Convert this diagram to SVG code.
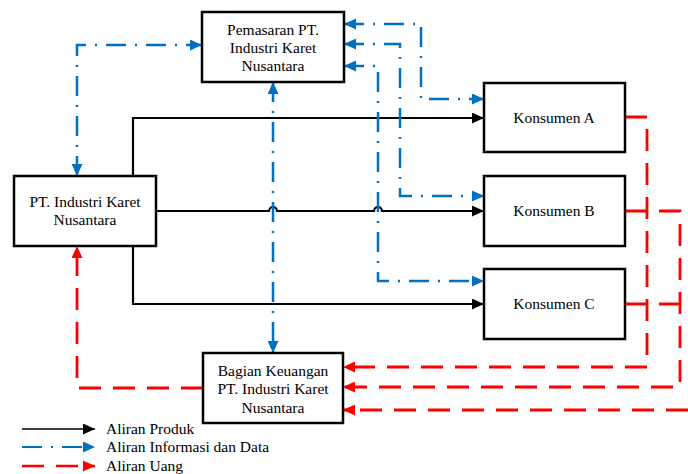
<svg xmlns="http://www.w3.org/2000/svg" width="688" height="474" viewBox="0 0 688 474">
<defs>
<marker id="ak" markerUnits="userSpaceOnUse" markerWidth="12" markerHeight="11" refX="12" refY="5.5" orient="auto-start-reverse"><path d="M0,0 L12,5.5 L0,11 Z" fill="#000"/></marker>
<marker id="ab" markerUnits="userSpaceOnUse" markerWidth="12" markerHeight="11" refX="12" refY="5.5" orient="auto-start-reverse"><path d="M0,0 L12,5.5 L0,11 Z" fill="#0070C0"/></marker>
<marker id="ar" markerUnits="userSpaceOnUse" markerWidth="12" markerHeight="11" refX="12" refY="5.5" orient="auto-start-reverse"><path d="M0,0 L12,5.5 L0,11 Z" fill="#FF0000"/></marker>
</defs>
<style>
.box{fill:#fff;stroke:#000;stroke-width:2.5}
.t{font-family:"Liberation Serif","Times New Roman",serif;font-size:15.5px;fill:#000;text-anchor:middle}
.tl{font-family:"Liberation Serif","Times New Roman",serif;font-size:15.5px;fill:#000}
.k{fill:none;stroke:#000;stroke-width:2.2}
.b{fill:none;stroke:#0070C0;stroke-width:2.5;stroke-dasharray:20 9 2 9}
.r{fill:none;stroke:#FF0000;stroke-width:2.8;stroke-dasharray:22 12}
</style>
<g id="connectors">
<path class="k" d="M133,176 V118 H484" marker-end="url(#ak)"/>
<path class="k" d="M156,211 H269 A4,4 0 0 1 277,211 H374 A4,4 0 0 1 382,211 H484" marker-end="url(#ak)"/>
<path class="k" d="M133,246 V304 H484" marker-end="url(#ak)"/>
<path class="b" d="M77,176 V45 H202" marker-start="url(#ab)" marker-end="url(#ab)"/>
<path class="b" d="M273,82 V353" marker-start="url(#ab)" marker-end="url(#ab)"/>
<path class="b" d="M344,24 H421 V99 H484" marker-start="url(#ab)" marker-end="url(#ab)"/>
<path class="b" d="M344,44 H400 V196 H484" marker-start="url(#ab)" marker-end="url(#ab)"/>
<path class="b" d="M344,66 H378 V281 H484" marker-start="url(#ab)" marker-end="url(#ab)"/>
<path class="r" d="M625,117 H647 V367 H343" marker-end="url(#ar)"/>
<path class="r" d="M625,211 H680 V387 H343" marker-end="url(#ar)"/>
<path class="r" d="M625,304 H680"/>
<path class="r" d="M688,410 H343" marker-end="url(#ar)"/>
<path class="r" d="M203,388 H77 V246" marker-end="url(#ar)"/>
</g>
<g id="pemasaran"><rect class="box" x="202" y="12" width="142" height="70"/>
<text class="t" x="273" y="35">Pemasaran PT.</text><text class="t" x="273" y="53">Industri Karet</text><text class="t" x="273" y="71">Nusantara</text></g>
<g id="pt"><rect class="box" x="14" y="176" width="142" height="70"/>
<text class="t" x="85" y="207">PT. Industri Karet</text><text class="t" x="85" y="225">Nusantara</text></g>
<g id="konsumenA"><rect class="box" x="484" y="83" width="141" height="69"/><text class="t" x="554" y="123">Konsumen A</text></g>
<g id="konsumenB"><rect class="box" x="484" y="176" width="141" height="70"/><text class="t" x="554" y="216">Konsumen B</text></g>
<g id="konsumenC"><rect class="box" x="484" y="269" width="141" height="70"/><text class="t" x="554" y="309">Konsumen C</text></g>
<g id="keuangan"><rect class="box" x="203" y="353" width="140" height="70"/>
<text class="t" x="273" y="376">Bagian Keuangan</text><text class="t" x="273" y="394">PT. Industri Karet</text><text class="t" x="273" y="413">Nusantara</text></g>
<g id="legend">
<path d="M22,429 H95" stroke="#000" stroke-width="1.5" fill="none" marker-end="url(#ak)"/>
<path d="M22,447 H95" stroke="#0070C0" stroke-width="2" stroke-dasharray="20 9 2 9" fill="none" marker-end="url(#ab)"/>
<path d="M22,466 H95" stroke="#FF0000" stroke-width="2.5" stroke-dasharray="22 12" fill="none" marker-end="url(#ar)"/>
<text class="tl" x="106" y="434">Aliran Produk</text>
<text class="tl" x="106" y="452">Aliran Informasi dan Data</text>
<text class="tl" x="106" y="471">Aliran Uang</text>
</g>
</svg>
